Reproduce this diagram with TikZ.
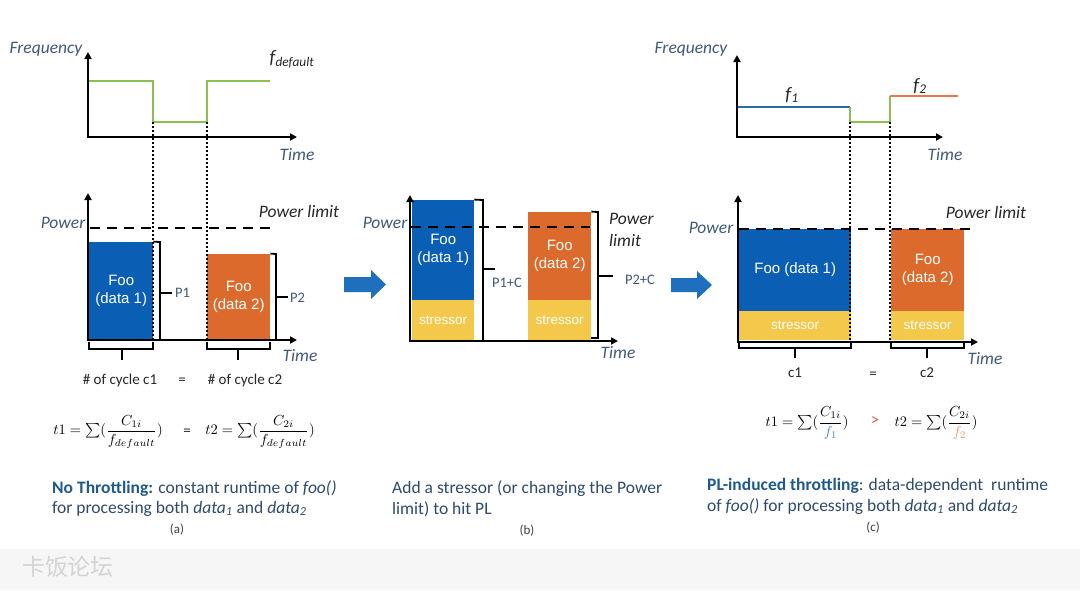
\documentclass[tikz,border=0pt]{standalone}
\usepackage{fontspec}
\setmainfont{Carlito}
\newfontfamily\arial{Liberation Sans}
\newfontfamily\cjk{Noto Sans CJK SC}
\usetikzlibrary{arrows.meta}
\definecolor{lbl}{HTML}{41597A}
\definecolor{captxt}{HTML}{2F4B6B}
\definecolor{capbold}{HTML}{1F5A8C}
\definecolor{boxblue}{HTML}{0A5FB4}
\definecolor{boxorange}{HTML}{DC6A2C}
\definecolor{boxyellow}{HTML}{F4C84A}
\definecolor{fgreen}{HTML}{8DBE52}
\definecolor{fblue}{HTML}{2E6AA0}
\definecolor{forange}{HTML}{E8774A}
\definecolor{arrblue}{HTML}{1F6FBF}
\definecolor{wmbg}{HTML}{F6F6F6}
\definecolor{wmtxt}{HTML}{D4D4D4}
\definecolor{gtred}{HTML}{E05A5A}
\definecolor{fonelight}{HTML}{4F86B8}
\definecolor{ftwolight}{HTML}{E89A7A}
\newcommand{\bigformula}[1]{\scalebox{1.45}{$#1$}}
\tikzset{
  axisline/.style={line width=2.2pt, {Triangle[length=7pt,width=7pt]}-{Triangle[length=7pt,width=7pt]}},
  freqline/.style={line width=2.4pt},
  dotline/.style={line width=2pt, dash pattern=on 2pt off 2pt},
  plimit/.style={line width=2pt, dash pattern=on 10pt off 7pt},
  brk/.style={line width=1.8pt},
  lab/.style={font=\fontsize{17.5}{20}\selectfont\itshape, text=lbl, inner sep=0pt},
  blab/.style={font=\fontsize{17.5}{20}\selectfont\itshape, text=black!85, inner sep=0pt},
  foobox/.style={draw=none, inner sep=0pt, text=white, align=center, font=\arial\fontsize{15}{18}\selectfont},
  strbox/.style={fill=boxyellow, draw=none, inner sep=0pt, text=white, font=\arial\fontsize{13.5}{16}\selectfont},
  plab/.style={font=\fontsize{14.5}{17}\selectfont, text=lbl, inner sep=0pt},
  cyc/.style={font=\fontsize{15}{18}\selectfont, text=black!85, inner sep=0pt},
  captext/.style={font=\fontsize{17.5}{21}\selectfont, text=captxt, inner sep=0pt, anchor=base west},
  sublab/.style={font=\fontsize{13}{15}\selectfont, text=black!75, inner sep=0pt},
  frm/.style={text=black, inner sep=0pt},
}
\begin{document}
\begin{tikzpicture}[x=1pt,y=-1pt]
\useasboundingbox (0,0) rectangle (1080,590);
\fill[white] (0,0) rectangle (1080,590);
\fill[wmbg] (0,549) rectangle (1080,590);
\node[font=\cjk\fontsize{23}{26}\selectfont, text=wmtxt, inner sep=0pt] (wm) at (68,567) {卡饭论坛};

% ================= Panel (a) =================
\draw[axisline] (88,52) |- (297,137);
\node[lab] (fa) at (46,49) {Frequency};
\node[lab] (ta) at (297,155) {Time};
\node[blab, font=\fontsize{19}{22}\selectfont\itshape] (fdef) at (292,59) {f\textsubscript{default}};
\draw[freqline, fgreen] (89,81) -- (153,81) -- (153,122) -- (207,122) -- (207,81) -- (270,81);

\node[foobox, fill=boxblue, minimum width=64pt, minimum height=98pt, anchor=south west] (a1) at (89,340) {Foo\\(data 1)};
\node[foobox, fill=boxorange, minimum width=63pt, minimum height=86pt, anchor=south west] (a2) at (207,340) {Foo\\(data 2)};
\draw[axisline] (88,193) |- (297,340);
\draw[plimit] (90,228) -- (270,228);
\node[lab] (pa) at (63,223) {Power};
\node[blab] (pla) at (299,211) {Power limit};
\node[lab] (ta2) at (300,356) {Time};
\draw[dotline] (153,122) -- (153,340);
\draw[dotline] (207,122) -- (207,340);
\draw[brk] (a1.north east) -- (160,242) -- (160,340);
\draw[brk] (160,293) -- (172,293);
\node[plab, anchor=west] (p1) at (175,293) {P1};
\draw[brk] (a2.north east) -- (276,254) -- (276,340);
\draw[brk] (276,297) -- (288,297);
\node[plab, anchor=west] (p2) at (290,298) {P2};
\draw[brk] (89,342) -- (89,349) -- (153,349) -- (153,342);
\draw[brk] (122,349) -- (122,360);
\draw[brk] (207,342) -- (207,349) -- (270,349) -- (270,342);
\draw[brk] (238,349) -- (238,360);
\node[cyc] (c1a) at (120,380) {\# of cycle c1};
\node[cyc] (eqa) at (182,381) {=};
\node[cyc] (c2a) at (245,380) {\# of cycle c2};
\node[frm] (t1a) at (108,432) {\bigformula{t1=\sum({\displaystyle\frac{C_{1i}}{f_{default}}})}};
\node[cyc] (eqa2) at (187,432) {=};
\node[frm] (t2a) at (260,432) {\bigformula{t2=\sum({\displaystyle\frac{C_{2i}}{f_{default}}})}};
\node[captext] (capa1) at (52,493) {\textbf{\color{capbold}No Throttling:} constant runtime of \textit{foo()}};
\node[captext] (capa2) at (52,513) {for processing both \textit{data\textsubscript{1}} and \textit{data\textsubscript{2}}};
\node[sublab] (suba) at (177,530) {(a)};

% ================= Panel (b) =================
\fill[arrblue] (344,277) -- (371,277) -- (371,270) -- (386,284.5) -- (371,299) -- (371,292) -- (344,292) -- cycle;
\node[foobox, fill=boxblue, minimum width=62pt, minimum height=100pt, anchor=south west] (b1) at (412,300) {Foo\\(data 1)};
\node[strbox, minimum width=62pt, minimum height=40pt, anchor=south west] (bs1) at (412,340) {stressor};
\node[foobox, fill=boxorange, minimum width=63pt, minimum height=88pt, anchor=south west] (b2) at (528,300) {Foo\\(data 2)};
\node[strbox, minimum width=63pt, minimum height=40pt, anchor=south west] (bs2) at (528,340) {stressor};
\draw[axisline] (410,195) |- (618,341);
\draw[plimit] (411,227) -- (590,227);
\node[lab] (pb) at (385,223) {Power};
\node[blab, align=left, anchor=west, font=\fontsize{17.5}{22}\selectfont\itshape] (plb) at (609,230) {Power\\limit};
\node[lab] (tb) at (618,353) {Time};
\draw[brk] (b1.north east) -- (483,200) -- (483,340);
\draw[brk] (483,269) -- (495,269);
\node[plab] (p1c) at (507,283) {P1+C};
\draw[brk] (b2.north east) -- (598,212) -- (598,338) -- (591,338);
\draw[brk] (598,276) -- (613,276);
\node[plab] (p2c) at (640,280) {P2+C};
\node[captext] (capb1) at (392,493) {Add a stressor (or changing the Power};
\node[captext] (capb2) at (392,514) {limit) to hit PL};
\node[sublab] (subb) at (527,531) {(b)};

% ================= Panel (c) =================
\fill[arrblue] (671,278) -- (697,278) -- (697,271) -- (712,285) -- (697,299) -- (697,292) -- (671,292) -- cycle;
\draw[axisline] (737,55) |- (943,137);
\node[lab] (fc) at (691,49) {Frequency};
\node[lab] (tc) at (945,155) {Time};
\draw[freqline, fblue] (738,107) -- (850,107);
\draw[freqline, fgreen] (850,107) -- (850,122) -- (890,122) -- (890,96);
\draw[freqline, forange] (890,96) -- (958,96);
\node[blab, font=\fontsize{19}{22}\selectfont\itshape] (f1) at (792,95) {f\textsubscript{1}};
\node[blab, font=\fontsize{19}{22}\selectfont\itshape] (f2) at (920,86) {f\textsubscript{2}};
\node[foobox, fill=boxblue, minimum width=112pt, minimum height=82pt, anchor=south west] (c1) at (739,311) {Foo (data 1)};
\node[strbox, minimum width=112pt, minimum height=29pt, anchor=south west] (cs1) at (739,340) {stressor};
\node[foobox, fill=boxorange, minimum width=73pt, minimum height=82pt, anchor=south west] (c2) at (891,311) {Foo\\(data 2)};
\node[strbox, minimum width=73pt, minimum height=29pt, anchor=south west] (cs2) at (891,340) {stressor};
\draw[axisline] (738,195) |- (978,342);
\draw[plimit] (739,229) -- (972,229);
\node[lab] (pc) at (711,228) {Power};
\node[blab] (plc) at (986,212) {Power limit};
\node[lab] (tc2) at (985,359) {Time};
\draw[dotline] (850,122) -- (850,340);
\draw[dotline] (890,122) -- (890,340);
\draw[brk] (739,343) -- (739,348) -- (851,348) -- (851,343);
\draw[brk] (795,348) -- (795,358);
\draw[brk] (891,343) -- (891,348) -- (964,348) -- (964,343);
\draw[brk] (927,348) -- (927,358);
\node[cyc] (cc1) at (795,373) {c1};
\node[cyc] (eqc) at (873,375) {=};
\node[cyc] (cc2) at (927,373) {c2};
\node[frm] (t1c) at (807,423) {\bigformula{t1=\sum({\displaystyle\frac{C_{1i}}{\color{fonelight}f_1}})}};
\node[cyc, text=gtred, font=\fontsize{17}{20}\selectfont] (gtc) at (875,421) {>};
\node[frm] (t2c) at (936,423) {\bigformula{t2=\sum({\displaystyle\frac{C_{2i}}{\color{ftwolight}f_2}})}};
\node[captext] (capc1) at (707,490) {\textbf{\color{capbold}PL-induced throttling}: data-dependent\ \ runtime};
\node[captext] (capc2) at (707,511) {of \textit{foo()} for processing both \textit{data\textsubscript{1}} and \textit{data\textsubscript{2}}};
\node[sublab] (subc) at (873,528) {(c)};
\end{tikzpicture}
\end{document}
